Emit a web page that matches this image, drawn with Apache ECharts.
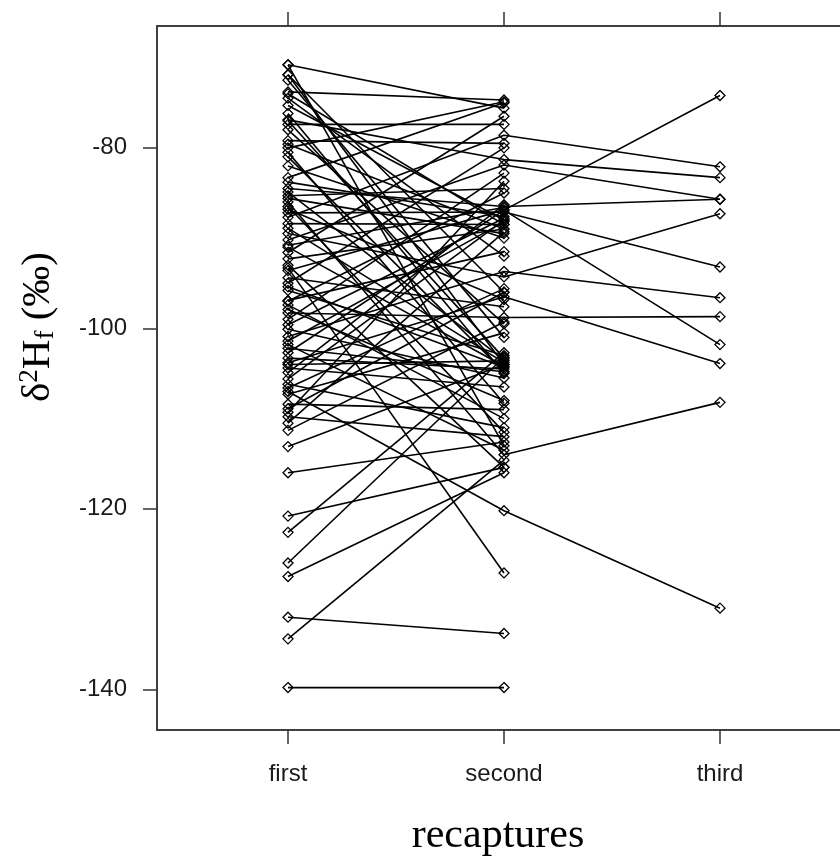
<!DOCTYPE html>
<html>
<head>
<meta charset="utf-8">
<script src="https://cdn.jsdelivr.net/npm/echarts@6/dist/echarts.min.js"></script>
<style>
  html, body { margin: 0; padding: 0; background: #fff; overflow: hidden; }
  #chart { width: 870px; height: 865px; }
</style>
</head>
<body>
<div id="chart"></div>
<script>
// recapture occasions (x categories)
const categories = ['first', 'second', 'third'];
const yTicks = [-140, -120, -100, -80];

// one entry per individual: value at first, second and (if any) third capture
const firstVals = [
  -70.8, -70.8, -71.9, -71.9, -73.8, -74.5, -75.3, -76.2, -76.9, -77.4,
  -78.0, -79.2, -79.6, -80.5, -81.0, -82.0, -83.3, -84.5, -84.9, -85.3,
  -85.6, -86.0, -86.5, -87.2, -87.7, -88.4, -88.9, -89.5, -90.2, -91.0,
  -91.6, -92.3, -93.0, -93.3, -93.6, -94.4, -95.0, -95.8, -96.9, -97.4,
  -97.9, -98.3, -99.0, -99.6, -100.1, -100.9, -101.8, -102.2, -102.7, -103.3,
  -103.8, -104.4, -104.9, -105.6, -106.2, -106.6, -107.0, -107.3, -108.4, -108.9,
  -109.3, -109.8, -110.5, -111.3, -113.1, -116.0, -120.8, -122.6, -126.0, -127.5,
  -132.0, -134.4, -139.8, -80.0, -97.0, -72.5, -74.0, -77.0, -83.8, -90.8,
  -95.4, -101.4, -104.0, -86.8
];
const secondVals = [
  -75.6, -113.0, -104.0, -96.0, -74.7, -92.0, -88.0, -105.0, -81.3, -77.4,
  -99.5, -79.5, -89.0, -108.3, -104.8, -90.0, -75.0, -86.5, -103.5, -84.5,
  -89.5, -114.0, -111.5, -87.1, -78.6, -88.5, -103.8, -94.3, -81.9, -104.2,
  -76.5, -89.0, -115.4, -127.1, -86.9, -97.6, -80.0, -103.0, -91.5, -110.0,
  -108.0, -98.8, -82.8, -87.8, -105.5, -93.7, -113.5, -104.8, -86.9, -104.5,
  -96.5, -106.5, -86.3, -88.0, -111.0, -95.6, -120.2, -100.5, -109.0, -96.0,
  -83.7, -112.0, -89.3, -99.3, -104.0, -112.6, -115.4, -102.7, -103.2, -116.0,
  -133.8, -114.6, -139.8, -74.9, -85.0, -101.0, -88.5, -103.3, -87.6, -86.6,
  -104.3, -88.2, -103.6, -96.8
];
const thirdVals = [
  null, null, null, null, null, null, null, null, -83.3, null,
  null, null, null, null, null, null, null, -85.7, null, null,
  null, -108.2, null, -93.2, -82.1, null, null, -87.3, -85.7, null,
  null, null, null, null, -101.8, null, null, null, null, null,
  null, -98.7, null, null, null, -96.6, null, null, -74.2, null,
  -103.9, null, null, null, null, null, -131.0, null, null, null,
  null, null, null, null, null, null, null, null, null, null,
  null, null, null, null, null, null, null, null, null, null,
  null, null, null, null
];

const chart = echarts.init(document.getElementById('chart'));

const series = firstVals.map((f, i) => {
  const data = [[1, f], [2, secondVals[i]]];
  if (thirdVals[i] !== null) data.push([3, thirdVals[i]]);
  return {
    type: 'line',
    data: data,
    symbol: 'diamond',
    symbolSize: 10,
    itemStyle: { color: 'rgba(0,0,0,0)', borderColor: '#000', borderWidth: 1.3 },
    lineStyle: { color: '#000', width: 1.6 },
    emphasis: { disabled: true },
    silent: true
  };
});

const tickFont = { fontFamily: 'Liberation Sans, Arial, sans-serif', fontSize: 24, color: '#1a1a1a' };
const serif = 'Liberation Serif, Times New Roman, serif';

chart.setOption({
  animation: false,
  backgroundColor: '#fff',
  grid: {
    left: 157, top: 26, width: 694, height: 704,
    show: true, borderColor: '#333', borderWidth: 1.5, backgroundColor: 'transparent'
  },
  xAxis: [
    {
      type: 'value', min: 0.3935, max: 3.6065, position: 'bottom',
      axisLine: { show: true, lineStyle: { color: '#333', width: 1.5 } },
      axisTick: { show: true, length: 14, customValues: [1, 2, 3], lineStyle: { color: '#333', width: 1.5 } },
      axisLabel: Object.assign({
        customValues: [1, 2, 3], margin: 32,
        formatter: v => categories[Math.round(v) - 1]
      }, tickFont),
      splitLine: { show: false }
    },
    {
      type: 'value', min: 0.3935, max: 3.6065, position: 'top',
      axisLine: { show: true, lineStyle: { color: '#333', width: 1.5 } },
      axisTick: { show: true, length: 14, customValues: [1, 2, 3], lineStyle: { color: '#333', width: 1.5 } },
      axisLabel: { show: false },
      splitLine: { show: false }
    }
  ],
  yAxis: {
    type: 'value', min: -144.5, max: -66.5,
    axisLine: { show: true, lineStyle: { color: '#333', width: 1.5 } },
    axisTick: { show: true, length: 14, customValues: yTicks, lineStyle: { color: '#333', width: 1.5 } },
    axisLabel: Object.assign({ customValues: yTicks, margin: 30 }, tickFont),
    splitLine: { show: false }
  },
  graphic: [
    {
      type: 'text', x: 38, y: 327, rotation: Math.PI / 2,
      style: {
        text: '{a|δ}{sup|2}{a|H}{sub|f}{a| (‰)}',
        align: 'center', verticalAlign: 'middle',
        rich: {
          a: { fontFamily: serif, fontSize: 41, color: '#000', verticalAlign: 'middle' },
          sup: { fontFamily: serif, fontSize: 27, color: '#000', padding: [0, 0, 16, 0] },
          sub: { fontFamily: serif, fontSize: 27, color: '#000', padding: [16, 0, 0, 0] }
        }
      }
    },
    {
      type: 'text', x: 498, y: 836,
      style: {
        text: 'recaptures', fontFamily: serif, fontSize: 42, fill: '#000',
        align: 'center', verticalAlign: 'middle'
      }
    }
  ],
  series: series
});
</script>
</body>
</html>
